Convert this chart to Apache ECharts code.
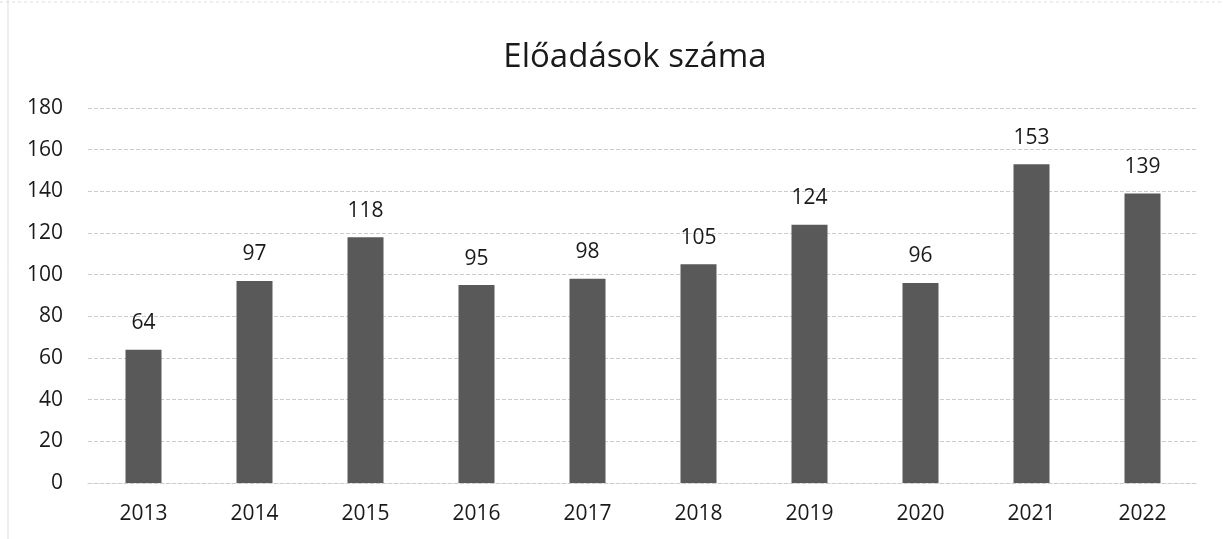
<!DOCTYPE html>
<html><head><meta charset="utf-8">
<script src="https://cdn.jsdelivr.net/npm/echarts@6/dist/echarts.min.js"></script>
<style>html,body{margin:0;padding:0;background:#fff}#c{width:1223px;height:539px}</style>
</head><body><div id="c"></div>
<script>
const categories = ['2013','2014','2015','2016','2017','2018','2019','2020','2021','2022'];
const values = [64, 97, 118, 95, 98, 105, 124, 96, 153, 139];
const yTicks = [0, 20, 40, 60, 80, 100, 120, 140, 160, 180];

const chart = echarts.init(document.getElementById('c'));
chart.setOption({
  animation: false,
  backgroundColor: '#fff',
  title: {
    text: 'Előadások száma', left: 630, top: 36, textAlign: 'center',
    textStyle: { fontFamily: 'Open Sans', fontSize: 33, fontWeight: 'normal', color: '#1a1a1a' }
  },
  grid: { left: 88, right: 25, top: 108, bottom: 56 },
  xAxis: {
    type: 'category', data: categories,
    axisLine: { show: true, lineStyle: { color: '#ccc', type: 'dashed' } },
    axisTick: { show: false },
    axisLabel: { fontFamily: 'Open Sans', fontSize: 21, color: '#1a1a1a', margin: 21 }
  },
  yAxis: {
    type: 'value', min: yTicks[0], max: yTicks[yTicks.length - 1], interval: 20,
    axisLine: { show: false }, axisTick: { show: false },
    splitLine: { lineStyle: { color: '#ccc', type: 'dashed', width: 1 } },
    axisLabel: { fontFamily: 'Open Sans', fontSize: 21, color: '#1a1a1a', margin: 25 }
  },
  series: [{
    type: 'bar', data: values, barWidth: 36,
    itemStyle: { color: '#595959' },
    label: { show: true, position: 'top', distance: 16, fontFamily: 'Open Sans', fontSize: 21, color: '#1a1a1a' }
  }],
  graphic: [
    { type: 'line', shape: { x1: 8, y1: 0, x2: 8, y2: 539 }, style: { stroke: '#ddd', lineWidth: 1 } },
    { type: 'line', shape: { x1: 0, y1: 2, x2: 1223, y2: 2 }, style: { stroke: '#ddd', lineWidth: 1, lineDash: [3, 3] } }
  ]
});
</script></body></html>
